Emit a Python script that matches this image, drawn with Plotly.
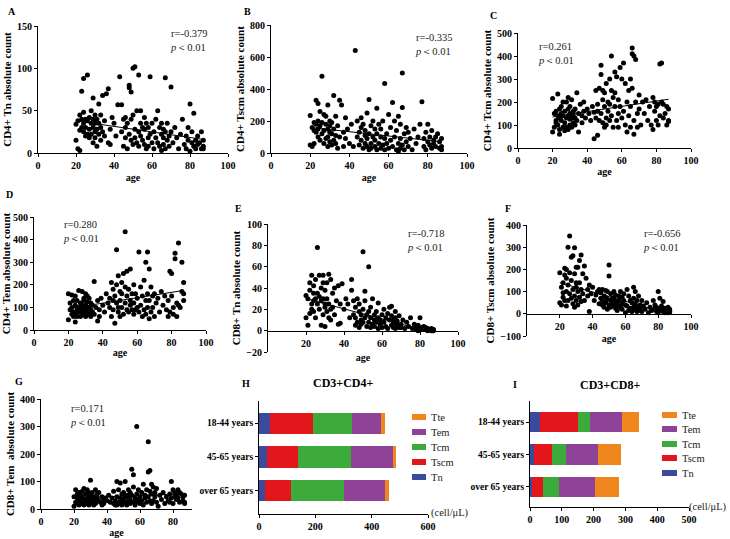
import plotly.graph_objects as go

# ages of the cohort (same subjects in every scatter panel)
age = [20, 20, 21, 21, 22, 22, 22, 23, 23, 23,
       24, 24, 24, 24, 25, 25, 25, 26, 26, 26,
       27, 27, 27, 28, 28, 28, 29, 29, 29, 29,
       30, 30, 30, 30, 31, 31, 31, 32, 32, 32,
       33, 33, 33, 34, 34, 35, 35, 36, 37, 37,
       38, 38, 39, 40, 41, 42, 43, 44, 44, 45,
       45, 46, 46, 46, 47, 47, 48, 48, 48, 49,
       49, 49, 50, 50, 50, 51, 51, 51, 52, 52,
       53, 53, 53, 54, 54, 54, 55, 55, 56, 56,
       56, 57, 57, 58, 58, 58, 59, 59, 60, 60,
       61, 61, 62, 62, 63, 63, 64, 64, 65, 65,
       65, 66, 66, 66, 67, 67, 67, 68, 68, 69,
       69, 70, 70, 71, 72, 73, 74, 75, 76, 77,
       78, 78, 79, 79, 80, 80, 81, 81, 82, 82,
       83, 83, 84, 84, 85, 86, 86, 87, 87, 87]

cd4_tn = [34, 15, 38, 5, 27, 45, 3, 73, 30, 40,
          88, 25, 48, 35, 20, 40, 30, 92, 38, 22,
          42, 28, 18, 50, 35, 22, 65, 40, 30, 12,
          45, 25, 35, 18, 8, 40, 28, 58, 22, 35,
          30, 15, 45, 68, 25, 38, 20, 70, 76, 12,
          28, 10, 42, 35, 20, 57, 90, 57, 25, 40,
          8, 30, 42, 18, 5, 35, 80, 77, 22, 72,
          15, 40, 100, 45, 10, 102, 28, 18, 12, 50,
          92, 25, 8, 50, 20, 35, 15, 30, 42, 10,
          28, 5, 35, 18, 30, 8, 90, 22, 12, 35,
          25, 5, 40, 18, 50, 12, 30, 8, 22, 35,
          3, 18, 28, 10, 89, 25, 5, 15, 35, 20,
          8, 78, 25, 12, 30, 18, 5, 22, 40, 10,
          20, 5, 15, 30, 58, 2, 12, 25, 47, 8,
          15, 5, 20, 10, 12, 25, 5, 8, 15, 5]

cd4_tscm = [235, 50, 40, 160, 190, 140, 60, 330, 130, 180,
            310, 150, 100, 200, 170, 80, 260, 480, 120, 190,
            240, 60, 140, 230, 90, 180, 100, 40, 150, 300,
            200, 70, 130, 170, 120, 50, 190, 360, 80, 150,
            110, 230, 60, 170, 30, 330, 100, 300, 130, 40,
            220, 90, 150, 60, 180, 40, 640, 100, 200, 130,
            50, 160, 220, 80, 30, 180, 110, 60, 140, 40,
            250, 90, 20, 120, 335, 60, 170, 30, 100, 200,
            40, 150, 80, 280, 20, 120, 60, 180, 30, 100,
            150, 50, 200, 90, 20, 435, 120, 60, 240, 30,
            160, 80, 315, 40, 200, 100, 20, 140, 60, 230,
            10, 90, 30, 180, 500, 285, 50, 120, 20, 160,
            70, 40, 130, 90, 20, 150, 60, 100, 180, 320,
            40, 90, 130, 20, 180, 70, 50, 100, 30, 140,
            60, 80, 100, 40, 120, 70, 30, 40, 20, 90]

cd4_tcm = [70, 215, 90, 150, 120, 160, 110, 235, 140, 100,
           130, 80, 170, 60, 150, 120, 180, 90, 140, 200,
           110, 160, 75, 200, 130, 90, 170, 220, 140, 80,
           180, 100, 150, 125, 130, 210, 90, 160, 110, 140,
           170, 100, 130, 240, 120, 70, 150, 190, 140, 110,
           200, 160, 130, 170, 150, 120, 180, 40, 155, 250,
           130, 55, 190, 160, 260, 120, 360, 320, 150, 210,
           110, 250, 90, 180, 240, 130, 280, 100, 200, 160,
           300, 120, 190, 400, 250, 140, 220, 90, 330, 180,
           240, 120, 310, 150, 210, 90, 350, 180, 300, 130,
           370, 160, 100, 280, 200, 70, 140, 250, 300, 90,
           180, 435, 410, 260, 400, 120, 60, 385, 200, 150,
           90, 230, 170, 100, 200, 150, 210, 120, 180, 100,
           220, 80, 200, 160, 120, 180, 100, 190, 365, 140,
           370, 200, 130, 190, 150, 100, 180, 170, 120, 115]

cd4_tem = [45, 160, 120, 90, 70, 155, 100, 130, 60, 80,
           150, 35, 110, 70, 90, 60, 130, 100, 175, 80,
           120, 60, 95, 170, 80, 110, 140, 70, 100, 130,
           160, 90, 60, 110, 125, 80, 150, 100, 70, 140,
           90, 60, 120, 110, 80, 215, 70, 100, 40, 130,
           90, 60, 140, 110, 80, 160, 120, 140, 100, 210,
           60, 130, 180, 90, 30, 150, 355, 120, 200, 100,
           240, 80, 170, 60, 130, 210, 100, 160, 70, 250,
           190, 435, 120, 90, 260, 150, 80, 180, 270, 110,
           130, 90, 160, 70, 200, 120, 90, 160, 100, 140,
           345, 80, 190, 110, 60, 150, 220, 90, 300, 130,
           70, 100, 345, 160, 270, 50, 130, 190, 80, 150,
           100, 160, 60, 120, 140, 80, 170, 110, 150, 90,
           130, 60, 260, 80, 250, 150, 70, 100, 340, 315,
           60, 120, 385, 110, 100, 170, 300, 210, 130, 160]

cd8_tn = [33, 12, 30, 5, 16, 38, 45, 25, 52, 20,
          35, 18, 42, 28, 30, 12, 48, 78, 25, 35,
          52, 20, 32, 40, 5, 28, 45, 15, 52, 30,
          25, 4, 38, 22, 45, 18, 30, 53, 12, 25,
          20, 48, 10, 35, 22, 40, 15, 28, 42, 6,
          25, 7, 44, 20, 30, 25, 12, 38, 48, 15,
          28, 5, 22, 12, 8, 30, 18, 3, 25, 10,
          15, 6, 74, 20, 8, 37, 12, 28, 4, 15,
          60, 8, 18, 3, 12, 22, 6, 30, 10, 15,
          4, 18, 8, 12, 2, 26, 10, 6, 15, 3,
          20, 8, 12, 4, 16, 2, 10, 22, 5, 14,
          23, 3, 10, 7, 18, 2, 12, 5, 9, 3,
          14, 6, 3, 10, 2, 8, 4, 12, 2, 6,
          3, 1, 5, 0, 12, 2, 3, 1, 4, 2,
          3, 1, 2, 0, 1, 2, 0, 1, 0, 1]

cd8_tscm = [50, 185, 40, 120, 75, 140, 95, 205, 60, 175,
            200, 100, 35, 160, 300, 130, 60, 350, 90, 185,
            255, 70, 150, 262, 45, 110, 298, 80, 180, 30,
            210, 120, 60, 140, 210, 40, 100, 240, 75, 140,
            265, 55, 110, 90, 180, 215, 60, 160, 110, 80,
            10, 130, 90, 120, 60, 85, 100, 45, 110, 70,
            95, 40, 110, 60, 80, 30, 105, 50, 75, 20,
            65, 100, 220, 40, 170, 60, 90, 30, 70, 50,
            100, 40, 70, 25, 85, 55, 45, 15, 80, 35,
            60, 100, 30, 75, 45, 20, 60, 90, 5, 40,
            110, 35, 80, 15, 60, 25, 50, 10, 120, 30,
            70, 100, 20, 45, 10, 60, 30, 80, 15, 40,
            25, 60, 10, 35, 20, 50, 5, 30, 15, 60,
            25, 40, 10, 30, 100, 5, 20, 70, 15, 35,
            55, 10, 25, 5, 15, 30, 5, 10, 20, 8]

cd8_tem = [10, 45, 70, 25, 40, 55, 20, 35, 60, 15,
           30, 50, 20, 40, 65, 25, 45, 30, 75, 15,
           55, 35, 20, 70, 40, 25, 60, 30, 45, 15,
           35, 50, 20, 105, 40, 60, 25, 45, 30, 15,
           70, 35, 20, 55, 40, 30, 60, 25, 45, 15,
           35, 20, 40, 30, 50, 25, 40, 20, 65, 15,
           30, 100, 45, 15, 70, 25, 95, 40, 20, 55,
           30, 15, 60, 35, 20, 45, 100, 25, 50, 15,
           70, 30, 45, 20, 60, 35, 50, 145, 125, 25,
           80, 40, 15, 300, 55, 25, 70, 35, 45, 20,
           60, 30, 90, 15, 50, 40, 70, 25, 135, 245,
           45, 140, 30, 65, 90, 20, 55, 80, 30, 45,
           60, 25, 75, 10, 50, 35, 60, 20, 45, 30,
           55, 25, 100, 40, 70, 20, 45, 60, 35, 50,
           70, 40, 60, 25, 55, 45, 30, 25, 50, 20]

# regression lines (value at age 20 and at age 87)
fit_age = [20, 87]
fit_cd4_tn = [38, 16]
fit_cd4_tscm = [160, 70]
fit_cd4_tcm = [135, 212]
fit_cd4_tem = [95, 175]
fit_cd8_tn = [30, -2]
fit_cd8_tscm = [140, 0]
fit_cd8_tem = [40, 55]

r_values = ['-0.379', '-0.335', '0.261', '0.280', '-0.718', '-0.656', '0.171']

# stacked bars (cell/uL)
groups = ['18-44 years', '45-65 years', 'over 65 years']
subsets = ['Tn', 'Tscm', 'Tcm', 'Tem', 'Tte']
cd4_bars = {'Tn': [38, 30, 20], 'Tscm': [154, 108, 94], 'Tcm': [139, 189, 188],
            'Tem': [103, 149, 147], 'Tte': [13, 11, 12]}
cd8_bars = {'Tn': [31, 13, 6], 'Tscm': [121, 55, 34], 'Tcm': [37, 45, 52],
            'Tem': [99, 102, 113], 'Tte': [56, 71, 75]}
subset_colors = {'Tn': '#3b4a9c', 'Tscm': '#e3161c', 'Tcm': '#3daa3c',
                 'Tem': '#8e4399', 'Tte': '#f0861e'}

W, H = 730, 539
SERIF = 'Liberation Serif, Times New Roman, serif'


def dx(a, b):
    return [a / W, b / W]


def dy(top, bottom):
    return [1 - bottom / H, 1 - top / H]


def px_x(v):
    return v / W


def px_y(v):
    return 1 - v / H


bold = dict(family=SERIF, size=10, color='black', weight='bold')

# scatter panels: letter, data, fit, y title, x box, y box, y range, y dtick, x range, x ticks, zero-crossing, title standoff
panels = [
    ('A', cd4_tn, fit_cd4_tn, 'CD4+ Tn absolute count', (38, 228), (26, 153), [0, 150], 50, [0, 100], None, False, 3),
    ('B', cd4_tscm, fit_cd4_tscm, 'CD4+ Tscm absolute count', (271, 467), (25, 153), [0, 800], 200, [0, 100], None, False, 3),
    ('C', cd4_tcm, fit_cd4_tcm, 'CD4+ Tcm absolute count', (518, 691), (33, 148), [0, 500], 100, [0, 100], None, False, 2),
    ('D', cd4_tem, fit_cd4_tem, 'CD4+ Tem absolute count', (34, 206), (217, 330), [0, 500], 100, [0, 100], None, False, 1),
    ('E', cd8_tn, fit_cd8_tn, 'CD8+ Tn absolute count', (268, 458), (224, 352), [-20, 100], 20, [0, 100], [20, 40, 60, 80, 100], True, 6),
    ('F', cd8_tscm, fit_cd8_tscm, 'CD8+ Tscm absolute count', (527, 691), (225, 336), [-100, 400], 100, [0, 100], [20, 40, 60, 80, 100], True, 4),
    ('G', cd8_tem, fit_cd8_tem, 'CD8+ Tem  absolute count', (41, 192), (399, 509), [0, 400], 100, [0, 91.5], [0, 20, 40, 60, 80], False, 1),
]
r_pos = [(168, 26), (413, 30), (536, 39), (61, 217), (405, 226), (641, 226), (68, 401)]
letter_pos = [(6, 12), (242, 12), (488, 15), (4, 194), (233, 208), (503, 208), (13, 381), (240, 383), (511, 384)]

fig = go.Figure()
layout = dict(template='none', width=W, height=H, margin=dict(l=0, r=0, t=0, b=0, pad=0),
              paper_bgcolor='white', plot_bgcolor='white', showlegend=False,
              barmode='stack', bargap=0.38)
annotations = []
shapes = []

for i, (letter, vals, fit, ytitle, xb, yb, yr, ydt, xr, xt, zero, xstand) in enumerate(panels):
    n = '' if i == 0 else str(i + 1)
    fig.add_trace(go.Scatter(x=age, y=vals, mode='markers', xaxis='x' + n, yaxis='y' + n,
                             marker=dict(color='black', size=5), cliponaxis=False, showlegend=False))
    fig.add_trace(go.Scatter(x=fit_age, y=fit, mode='lines', xaxis='x' + n, yaxis='y' + n,
                             line=dict(color='black', width=1), showlegend=False))
    xa = dict(domain=dx(*xb), range=xr, showgrid=False, zeroline=False, showline=True,
              linecolor='black', linewidth=1, ticks='outside', ticklen=3, tickcolor='black',
              tickfont=bold, automargin=False, title=dict(text='age', font=bold, standoff=xstand))
    if xt is None:
        xa['dtick'] = 20
        xa['tick0'] = 0
    else:
        xa['tickvals'] = xt
    ydom = dy(*yb)
    if zero:
        xa['anchor'] = 'free'
        xa['position'] = ydom[0] + (0 - yr[0]) / (yr[1] - yr[0]) * (ydom[1] - ydom[0])
    else:
        xa['anchor'] = 'y' + n
    ya = dict(domain=ydom, range=yr, dtick=ydt, anchor='x' + n, showgrid=False, zeroline=False,
              showline=True, linecolor='black', linewidth=1, ticks='outside', ticklen=3,
              tickcolor='black', tickfont=bold, automargin=False,
              title=dict(text=ytitle, font=dict(family=SERIF, size=11, color='black', weight='bold'), standoff=3))
    layout['xaxis' + n] = xa
    layout['yaxis' + n] = ya
    rx, ry = r_pos[i]
    annotations.append(dict(x=px_x(rx), y=px_y(ry), xref='paper', yref='paper', xanchor='left',
                            yanchor='top', align='left', showarrow=False,
                            text='r=' + r_values[i] + '<br><i>p</i>＜0.01',
                            font=dict(family=SERIF, size=10.5, color='#222')))

# stacked bar panels H and I
bar_panels = [
    (8, cd4_bars, 'CD3+CD4+', (259, 428), (401, 514), [0, 600], 200, [-0.68, 2.65],
     (412, 426, 429), [417, 432, 447, 462, 477], (343, 383), (450, 513)),
    (9, cd8_bars, 'CD3+CD8+', (530, 689), (401, 507), [0, 500], 100, [-0.62, 2.65],
     (662, 677, 680), [415, 429, 444, 458, 473], (610, 385), (708, 507)),
]
for n, bars, title, xb, yb, xr, xdt, yr, legx, legy, tpos, upos in bar_panels:
    s = str(n)
    for sub in subsets:
        fig.add_trace(go.Bar(x=bars[sub], y=groups, orientation='h', name=sub,
                             marker=dict(color=subset_colors[sub], line=dict(width=0)),
                             xaxis='x' + s, yaxis='y' + s, showlegend=False))
    layout['xaxis' + s] = dict(domain=dx(*xb), range=xr, dtick=xdt, anchor='y' + s, showgrid=False,
                               zeroline=False, showline=True, linecolor='black', linewidth=1,
                               ticks='outside', ticklen=3, tickcolor='black', tickfont=bold,
                               automargin=False)
    layout['yaxis' + s] = dict(domain=dy(*yb), range=yr, anchor='x' + s, type='category',
                               categoryorder='array', categoryarray=groups[::-1], showgrid=False,
                               zeroline=False, showline=True, linecolor='black', linewidth=1,
                               ticks='outside', ticklen=3, tickcolor='black', automargin=False,
                               tickfont=dict(family=SERIF, size=9.5, color='black', weight='bold'))
    # legend, top entry first (Tte ... Tn)
    for sub, ly in zip(subsets[::-1], legy):
        shapes.append(dict(type='rect', xref='paper', yref='paper', x0=px_x(legx[0]), x1=px_x(legx[1]),
                           y0=px_y(ly + 3), y1=px_y(ly - 3), fillcolor=subset_colors[sub], line=dict(width=0)))
        annotations.append(dict(x=px_x(legx[2]), y=px_y(ly), xref='paper', yref='paper', xanchor='left',
                                yanchor='middle', showarrow=False, text=sub,
                                font=dict(family=SERIF, size=10.5, color='#222')))
    annotations.append(dict(x=px_x(tpos[0]), y=px_y(tpos[1]), xref='paper', yref='paper',
                            xanchor='center', yanchor='middle', showarrow=False, text=title,
                            font=dict(family=SERIF, size=12, color='black', weight='bold')))
    annotations.append(dict(x=px_x(upos[0]), y=px_y(upos[1]), xref='paper', yref='paper',
                            xanchor='center', yanchor='middle', showarrow=False, text='(cell/μL)',
                            font=dict(family=SERIF, size=10.5, color='#222')))

for letter, (lx, ly) in zip('ABCDEFGHI', letter_pos):
    annotations.append(dict(x=px_x(lx), y=px_y(ly), xref='paper', yref='paper', xanchor='left',
                            yanchor='middle', showarrow=False, text=letter,
                            font=dict(family=SERIF, size=10, color='black', weight='bold')))

layout['annotations'] = annotations
layout['shapes'] = shapes
fig.update_layout(**layout)
# the page's default 8px body margin would push the figure off the window
fig.write_html('out.html', config={'displayModeBar': False},
               post_script="document.body.style.margin='0';")
